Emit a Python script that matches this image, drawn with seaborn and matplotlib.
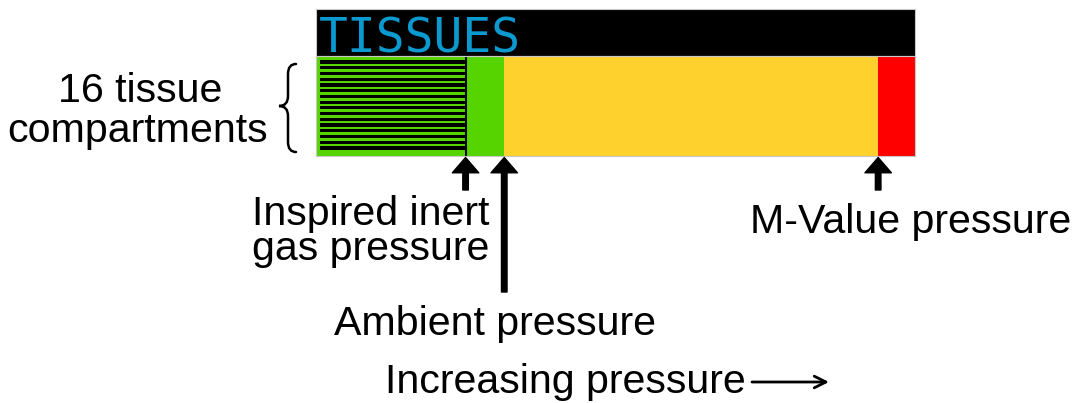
import matplotlib
matplotlib.use("Agg")
import matplotlib.pyplot as plt
from matplotlib.path import Path
from matplotlib.patches import PathPatch
import seaborn as sns

# pressures (bar)
inspired_pressure = 0.79
ambient_pressure = 1.0
m_value_pressure = 3.03
scale_max = 3.23

compartments = [str(i) for i in range(1, 17)]
tissue_pressures = [0.79] * 16

zone_names = ["Below ambient", "Supersaturated", "Beyond M-value"]
zone_ends = [ambient_pressure, m_value_pressure, scale_max]
zone_colors = ["#56d400", "#fed12c", "#ff0000"]

W, H = 1075, 403
PANEL_X0, PANEL_X1 = 316, 915
HDR_Y0, BAR_Y0, BAR_Y1 = 9, 56, 156
X_LEFT = -0.022


def fig_rect(x0, y0, x1, y1):
    return [x0 / W, 1 - y1 / H, (x1 - x0) / W, (y1 - y0) / H]


sns.set_theme(style="white")
plt.rcParams["font.family"] = ["Liberation Sans", "DejaVu Sans"]
plt.rcParams["text.color"] = "black"

fig = plt.figure(figsize=(W / 100, H / 100), dpi=100)

# overlay for free text
ax_txt = fig.add_axes([0, 0, 1, 1])
ax_txt.set_xlim(0, W)
ax_txt.set_ylim(H, 0)
ax_txt.set_axis_off()

# header
ax_hdr = fig.add_axes(fig_rect(PANEL_X0, HDR_Y0, PANEL_X1, BAR_Y0))
ax_hdr.set_facecolor("black")
ax_hdr.set_xticks([])
ax_hdr.set_yticks([])
for s in ax_hdr.spines.values():
    s.set_color("#c8c8c8")
    s.set_linewidth(0.8)
ax_hdr.text(0.004, 0.07, "TISSUES", transform=ax_hdr.transAxes,
            family="DejaVu Sans Mono", fontsize=34.5, color="#0a9ad0",
            ha="left", va="baseline")

# pressure zones
ax_zone = fig.add_axes(fig_rect(PANEL_X0, BAR_Y0, PANEL_X1, BAR_Y1))
ax_zone.set_facecolor(zone_colors[0])
for name, end, col in reversed(list(zip(zone_names, zone_ends, zone_colors))):
    sns.barplot(x=[end], y=["tissues"], orient="h", color=col,
                saturation=1, width=1, errorbar=None, linewidth=0,
                ax=ax_zone)
ax_zone.axvline(inspired_pressure, color="black", lw=1.5)
ax_zone.set_xlim(X_LEFT, scale_max)
ax_zone.set_ylim(0.5, -0.5)
ax_zone.set_xticks([])
ax_zone.set_yticks([])
ax_zone.set_xlabel("")
ax_zone.set_ylabel("")
for s in ax_zone.spines.values():
    s.set_color("#c8c8c8")
    s.set_linewidth(0.8)

# 16 tissue compartments
ax_tis = fig.add_axes(fig_rect(PANEL_X0, BAR_Y0, PANEL_X1, BAR_Y1))
ax_tis.patch.set_alpha(0)
sns.barplot(x=tissue_pressures, y=compartments, orient="h", color="black",
            saturation=1, width=0.55, errorbar=None, linewidth=0, ax=ax_tis)
ax_tis.set_xlim(X_LEFT, scale_max)
ax_tis.set_ylim(16.4, -1.05)
ax_tis.set_axis_off()

# arrows under the bar
arrow_kw = dict(facecolor="black", edgecolor="black", width=4,
                headwidth=19, headlength=11, shrink=0)
for p, tail in [(inspired_pressure, -0.34), (ambient_pressure, -1.36),
                (m_value_pressure, -0.34)]:
    ax_zone.annotate("", xy=(p, -0.015), xycoords=("data", "axes fraction"),
                     xytext=(p, tail), textcoords=("data", "axes fraction"),
                     arrowprops=arrow_kw, annotation_clip=False)

# labels
fs = 29.6
ax_txt.text(140, 102, "16 tissue", fontsize=fs, ha="center", va="baseline")
ax_txt.text(138, 142, "compartments", fontsize=fs, ha="center", va="baseline")
ax_txt.text(371, 225, "Inspired inert", fontsize=fs, ha="center", va="baseline")
ax_txt.text(371, 260, "gas pressure", fontsize=fs, ha="center", va="baseline")
ax_txt.text(495, 335, "Ambient pressure", fontsize=fs, ha="center", va="baseline")
ax_txt.text(911, 233, "M-Value pressure", fontsize=fs, ha="center", va="baseline")
ax_txt.text(385, 393, "Increasing pressure", fontsize=fs, ha="left", va="baseline")
ax_txt.annotate("", xy=(829, 382), xytext=(752, 382),
                arrowprops=dict(arrowstyle="->,head_length=0.7,head_width=0.35",
                                lw=2, color="black", shrinkA=0, shrinkB=0))

# curly brace
xa, xm, xt = 296, 288, 279
top, bot, mid, r = 64, 152, 106, 10
verts = [(xa, top), (xm, top), (xm, top + r), (xm, mid - r),
         (xm, mid), (xt, mid), (xm, mid), (xm, mid + r),
         (xm, bot - r), (xm, bot), (xa, bot)]
codes = [Path.MOVETO, Path.CURVE3, Path.CURVE3, Path.LINETO,
         Path.CURVE3, Path.CURVE3, Path.CURVE3, Path.CURVE3,
         Path.LINETO, Path.CURVE3, Path.CURVE3]
ax_txt.add_patch(PathPatch(Path(verts, codes), fill=False, lw=1.8,
                           edgecolor="black", capstyle="round"))

fig.savefig("out.png", dpi=100)
